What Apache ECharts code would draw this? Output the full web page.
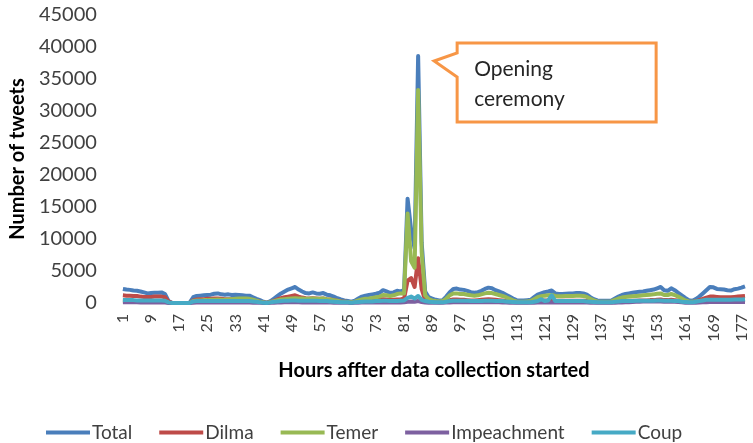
<!DOCTYPE html>
<html>
<head>
<meta charset="utf-8">
<script src="https://cdn.jsdelivr.net/npm/echarts@6/dist/echarts.min.js"></script>
<style>
html,body{margin:0;padding:0;background:#fff;}
#chart{width:753px;height:443px;}
</style>
</head>
<body>
<div id="chart"></div>
<script>
// Hours 1..178
const hours = [];
for (let h = 1; h <= 178; h++) hours.push(String(h));

const seriesNames = ['Total', 'Dilma', 'Temer', 'Impeachment', 'Coup'];

const total = [
 2200,2100,2050,1950,1900,1800,1650,1500,1550,1600,1600,1650,1400,300,0,0,0,0,0,50,
 900,1100,1150,1200,1250,1300,1450,1500,1350,1300,1350,1250,1300,1250,1200,1150,1150,900,650,450,
 200,50,300,700,1100,1500,1800,2100,2300,2500,2100,1800,1550,1500,1650,1500,1450,1550,1300,1200,
 1000,750,550,400,300,200,350,700,1000,1150,1250,1350,1450,1600,2000,1800,1600,1650,1900,1800,
 2000,16300,11500,8500,38600,9500,1800,900,700,500,400,450,1000,1700,2200,2250,2100,2050,1900,1700,
 1600,1700,1900,2200,2400,2300,2000,1800,1600,1300,1000,700,450,400,400,450,500,900,1300,1500,
 1700,1800,1950,1500,1400,1400,1450,1500,1500,1550,1550,1500,1300,900,600,400,350,350,350,400,
 700,1000,1250,1400,1500,1600,1700,1750,1800,1900,2000,2100,2300,2500,2000,1900,2300,2000,1600,1200,
 800,450,350,600,1000,1500,2000,2500,2450,2200,2150,2100,2000,1950,2150,2250,2400,2600
];

const dilma = [
 1200,1150,1150,1100,1100,1000,950,950,950,1000,1000,1000,900,200,0,0,0,0,0,0,
 400,550,600,600,650,650,700,700,650,600,600,600,600,550,550,500,500,400,300,200,
 100,0,150,350,550,750,900,1000,1100,1200,1000,850,750,700,750,700,650,700,600,550,
 450,350,250,200,150,100,150,300,400,450,450,500,500,550,600,550,500,500,550,550,
 700,3500,3900,2500,7000,2200,400,250,200,150,100,150,300,450,550,550,500,500,450,400,
 400,450,500,550,600,550,500,450,400,300,250,150,100,100,100,100,150,250,300,350,
 400,400,400,350,350,350,350,350,350,350,350,350,300,200,150,100,100,100,100,100,
 200,250,300,300,350,350,350,400,400,400,450,450,500,550,450,450,500,450,400,300,
 200,150,150,250,450,650,850,1000,1000,950,900,900,900,900,950,1000,1050,1100
];

const temer = [
 300,300,300,300,300,300,250,250,250,250,250,250,200,50,0,0,0,0,0,0,
 300,400,400,450,450,500,500,550,500,500,550,600,650,700,700,700,650,500,350,200,
 100,0,150,300,450,550,600,650,700,750,700,700,650,650,700,650,650,700,600,550,
 450,350,250,200,150,100,200,400,550,650,700,800,900,1000,1250,1200,1100,1200,1400,1500,
 1500,14000,6500,5500,33300,8000,1200,600,400,300,250,300,700,1200,1500,1500,1400,1400,1300,1200,
 1150,1200,1350,1500,1600,1550,1400,1250,1100,900,650,400,250,200,200,250,300,600,900,1050,
 1150,1200,1250,1100,1050,1050,1100,1100,1100,1150,1150,1100,950,650,400,250,200,200,200,250,
 500,700,850,950,1000,1050,1100,1150,1200,1250,1300,1350,1450,1500,1250,1250,1400,1250,1000,700,
 400,250,200,250,300,350,400,450,450,400,400,400,400,400,450,450,450,500
];

const impeachment = [
 100,100,100,100,100,80,80,80,80,80,80,80,60,0,0,0,0,0,0,0,
 50,60,60,60,60,60,60,60,60,60,60,60,60,60,60,60,60,50,40,20,
 10,0,20,40,60,80,100,100,100,100,100,80,80,80,80,80,80,80,60,60,
 50,40,30,20,20,10,20,40,60,60,60,60,60,60,80,80,80,80,80,80,
 100,200,250,200,300,150,80,50,40,30,20,30,60,80,100,100,100,100,100,100,
 100,100,100,100,100,100,100,100,80,60,40,30,20,20,20,20,30,50,60,80,
 80,80,80,80,80,80,80,80,80,80,80,80,60,40,30,20,20,20,20,20,
 40,60,80,100,120,150,180,200,220,250,250,250,250,250,200,200,200,180,150,100,
 50,30,30,50,80,100,120,150,150,150,150,150,150,150,150,150,150,150
];

const coup = [
 450,450,450,450,400,400,400,400,400,400,400,400,350,100,0,0,0,0,0,0,
 250,300,300,300,300,300,300,300,300,300,300,300,300,300,300,300,300,250,200,100,
 50,0,100,200,250,300,350,350,400,400,350,350,350,350,350,350,300,300,300,250,
 200,150,100,100,100,50,100,150,200,250,250,250,300,300,350,350,300,300,300,350,
 400,800,1000,700,1100,500,300,200,150,100,100,100,200,300,350,350,350,350,350,300,
 300,300,300,350,350,350,300,300,300,250,200,150,100,100,100,100,100,200,300,600,
 300,400,1200,300,300,300,300,300,300,300,300,300,250,200,150,100,100,100,100,100,
 200,250,300,300,300,300,350,350,350,350,350,350,400,400,350,350,350,300,300,200,
 150,100,100,200,300,400,500,500,500,500,500,500,500,500,550,550,550,600
];

const colors = ['#4A7EBB', '#BE4B48', '#98B954', '#7D60A0', '#46AAC5'];
const seriesData = [total, dilma, temer, impeachment, coup];

const annotationText = 'Opening\nceremony';
const annotationHour = '85';
const annotationValue = 38600;

const FONT = 'Lato, "Open Sans", sans-serif';

const chart = echarts.init(document.getElementById('chart'), null, {renderer: 'canvas'});

const option = {
  animation: false,
  backgroundColor: '#ffffff',
  color: colors,
  textStyle: {fontFamily: FONT},
  grid: {left: 113, right: 8, top: 15, bottom: 140, containLabel: false},
  legend: {
    data: seriesNames,
    left: 41,
    top: 418,
    icon: 'rect',
    itemWidth: 44,
    itemHeight: 4,
    itemGap: 27,
    textStyle: {fontFamily: FONT, fontSize: 19, color: '#404040', padding: [0, 0, 0, -3]}
  },
  xAxis: {
    type: 'category',
    data: hours,
    boundaryGap: false,
    name: 'Hours affter data collection started',
    nameLocation: 'middle',
    nameGap: 58,
    nameTextStyle: {fontFamily: FONT, fontSize: 20, fontWeight: 'bold', color: '#000'},
    axisLine: {show: false},
    axisTick: {show: false},
    axisLabel: {interval: 7, rotate: 90, margin: 11, fontSize: 16, color: '#404040', fontFamily: FONT},
    splitLine: {show: false}
  },
  yAxis: {
    type: 'value',
    min: 0,
    max: 45000,
    interval: 5000,
    name: 'Number of tweets',
    nameLocation: 'middle',
    nameGap: 86,
    nameRotate: 90,
    nameTextStyle: {fontFamily: FONT, fontSize: 20, fontWeight: 'bold', color: '#000'},
    axisLine: {show: false},
    axisTick: {show: false},
    axisLabel: {margin: 26, fontSize: 20, color: '#404040', fontFamily: FONT,
      formatter: v => String(v)},
    splitLine: {show: false}
  },
  series: seriesNames.map((n, i) => ({
    name: n,
    type: 'line',
    data: seriesData[i],
    symbol: 'none',
    smooth: false,
    lineStyle: {width: 4, color: colors[i], join: 'round'},
    itemStyle: {color: colors[i]}
  }))
};
chart.setOption(option);

// Callout anchored to the peak of the opening ceremony
const p = chart.convertToPixel({xAxisIndex: 0, yAxisIndex: 0}, [annotationHour, annotationValue]);
const tipX = p[0] + 16, tipY = p[1] + 5;
const bx = tipX + 23, by = tipY - 18, bw = 199, bh = 79;
chart.setOption({
  graphic: [
    {
      type: 'polygon',
      z: 100,
      shape: {points: [
        [bx, by], [bx + bw, by], [bx + bw, by + bh], [bx, by + bh],
        [bx, tipY + 16], [tipX, tipY], [bx, tipY - 8]
      ]},
      style: {fill: '#ffffff', stroke: '#F79646', lineWidth: 3, lineJoin: 'miter'}
    },
    {
      type: 'text',
      z: 101,
      x: bx + 17,
      y: by + 11,
      style: {text: annotationText, fontFamily: FONT, fontSize: 21, lineHeight: 30, fill: '#262626'}
    }
  ]
});
</script>
</body>
</html>
